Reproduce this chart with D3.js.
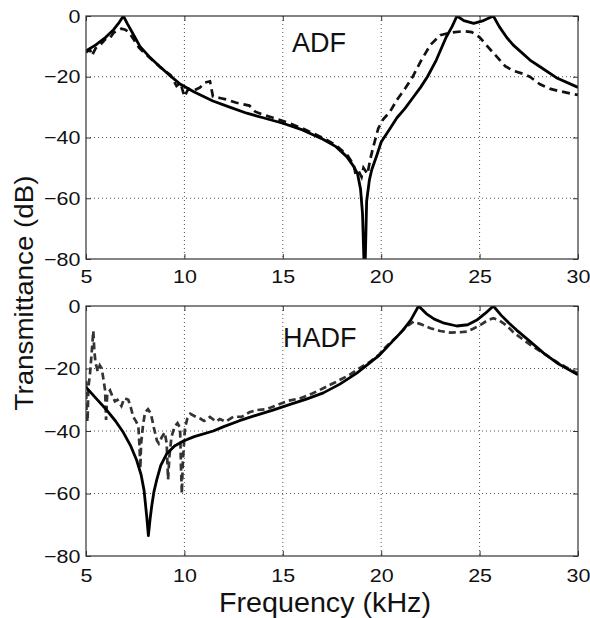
<html>
<head>
  <meta charset="utf-8" />
  <script src="https://cdnjs.cloudflare.com/ajax/libs/d3/7.8.5/d3.min.js"></script>
  <style>
    body { margin: 0; background: #fff; }
    text { font-family: "Liberation Sans", Arial, sans-serif; }
  </style>
</head>
<body>
  <script>

    var freqTicks = [5, 10, 15, 20, 25, 30];
    var dbTicks = [0, -20, -40, -60, -80];
    var panelTitles = ["ADF", "HADF"];

    // top panel, theory (solid) [kHz, dB]
    var adfTheory = [[5,-11.5],[5.5,-9.5],[6,-7],[6.4,-4.5],[6.7,-2],[6.9,0],[7.1,-2.5],[7.4,-6],
      [7.74,-10],[8.2,-13.3],[8.76,-16.7],[9.3,-19.8],[9.78,-22.4],[10.5,-25],[11.45,-28],
      [12.3,-30],[13.17,-32],[14,-33.5],[15,-35.3],[16,-37.5],[17.04,-40.6],[17.7,-43],
      [18.25,-46.3],[18.6,-49.5],[18.8,-52],[18.95,-57],[19.05,-65],[19.12,-80],[19.15,-90],
      [19.2,-78],[19.26,-61],[19.4,-54],[19.52,-50.6],[19.77,-46],[20,-41.5],[20.45,-37],
      [20.8,-33.5],[21.2,-30.5],[21.6,-27],[22,-23.5],[22.35,-20],[22.8,-14.5],[23.3,-7],
      [23.6,-3.5],[23.85,0],[24.2,-1.5],[24.7,-2.4],[25.2,-1.5],[25.7,0],[26,-3.5],[26.37,-7],
      [26.7,-9.5],[27.56,-14.5],[28.07,-16.7],[28.9,-20.3],[30,-23.5]];

    // top panel, measured (dashed)
    var adfMeasured = [[5,-12],[5.2,-11],[5.3,-13],[5.5,-10.5],[5.8,-9],[6,-7.5],[6.2,-7.5],
      [6.4,-5.5],[6.6,-4.8],[6.8,-4.2],[7,-4.5],[7.2,-5.5],[7.4,-7.5],[7.7,-10.5],[8.2,-13.5],
      [8.8,-17],[9.3,-19.5],[9.6,-23],[9.8,-22],[10,-26.5],[10.2,-24],[10.5,-24.5],[10.8,-23.5],
      [11,-22],[11.3,-21.5],[11.45,-26.5],[11.8,-27],[12.15,-27.5],[12.6,-28.5],[13.3,-29.5],
      [13.6,-31.5],[14,-32.5],[14.5,-33.5],[15.2,-35],[16,-37],[17,-40],[17.7,-42.5],[18.3,-46],
      [18.6,-49],[18.7,-52],[18.85,-51],[19,-53],[19.1,-50],[19.3,-52],[19.45,-47],[19.6,-43],
      [19.85,-37],[20.1,-34],[20.45,-31.5],[20.8,-27.6],[21.2,-24],[21.6,-20],[22,-15],
      [22.5,-9.5],[23,-6.3],[23.5,-5.5],[24.2,-5],[24.6,-5.3],[25,-7],[25.4,-10],[25.87,-13.4],
      [26.3,-16.5],[26.7,-18],[27.2,-19],[27.55,-20],[28.07,-22.5],[28.6,-24],[29.1,-24.8],[30,-26]];

    // bottom panel, theory (solid)
    var hadfTheory = [[5,-26],[5.5,-29.5],[6.05,-33.3],[6.5,-36.8],[6.9,-40.5],[7.25,-44.5],
      [7.57,-49.3],[7.8,-54],[7.95,-59],[8.08,-67],[8.17,-73.5],[8.26,-68],[8.34,-64],
      [8.45,-59.5],[8.6,-55.5],[8.8,-51],[9.1,-47.3],[9.5,-44.8],[9.95,-43.2],[10.5,-41.8],
      [11.47,-40],[12,-38.6],[12.8,-36.7],[13.67,-34.9],[14.5,-33.3],[15.37,-31.5],[16.2,-29.8],
      [17.06,-27.8],[17.9,-25],[18.76,-21.5],[19.4,-18.3],[19.9,-15.8],[20.5,-11.8],[21.1,-7.8],
      [21.5,-4.5],[21.9,0],[22.3,-2.5],[22.7,-4.2],[23.2,-5.5],[23.84,-6.4],[24.4,-6],
      [24.86,-4.5],[25.3,-2.3],[25.7,0],[26.1,-3],[26.5,-5.5],[26.88,-7.7],[27.5,-11],
      [28.24,-15],[29,-18.5],[30,-22]];

    // bottom panel, measured (dashed)
    var hadfMeasured = [[5,-24],[5.03,-35],[5.08,-37],[5.12,-26],[5.2,-22],[5.3,-14],[5.37,-8],
      [5.42,-14],[5.48,-18],[5.6,-21],[5.7,-19],[5.8,-20],[5.9,-24],[5.97,-27],[6.02,-36.5],
      [6.08,-28],[6.22,-27],[6.35,-29],[6.47,-30.5],[6.6,-30],[6.8,-32],[6.95,-29.5],[7.15,-30],
      [7.3,-33],[7.4,-35.5],[7.55,-37],[7.66,-38.5],[7.72,-45],[7.76,-52],[7.8,-44],[7.9,-38],
      [8,-34],[8.15,-33],[8.3,-34.5],[8.45,-39],[8.6,-43],[8.7,-44],[8.85,-42],[9,-40.5],
      [9.1,-44],[9.17,-55.5],[9.24,-48],[9.34,-42],[9.5,-38.6],[9.65,-37.5],[9.78,-39],
      [9.83,-52],[9.87,-60],[9.92,-50],[10.03,-39],[10.15,-36],[10.3,-34.5],[10.6,-35.5],
      [10.8,-36],[11,-36.8],[11.3,-35.5],[11.6,-37],[11.8,-36.2],[12.1,-37],[12.5,-35.4],
      [12.9,-35.5],[13.3,-34],[13.67,-33.3],[14.2,-33],[14.7,-31.7],[15.3,-30.3],[15.9,-29.5],
      [16.5,-28],[17.06,-26.3],[17.7,-24.3],[18.4,-22],[19,-19.5],[19.4,-18],[19.9,-15.5],
      [20.25,-13],[20.8,-9.8],[21.2,-7],[21.65,-5],[22,-5.8],[22.5,-7.1],[23,-8],[23.5,-8.5],
      [24,-8.4],[24.35,-8.2],[24.7,-7.2],[25.03,-6.1],[25.4,-4.6],[25.7,-3.9],[26,-4.6],
      [26.37,-6.2],[26.7,-8.3],[27.05,-10],[27.6,-12.5],[28.3,-15.4],[29,-18.2],[29.5,-20],[30,-21.5]];

    var svg = d3.select("body").append("svg").attr("width", 590).attr("height", 618);
    var xScale = d3.scaleLinear().domain([5, 30]).range([86, 578]);

    function drawPanel(top, bottom, solid, dashed, title, tx, ty, pad, dashColor, dashArray, n) {
      var yScale = d3.scaleLinear().domain([-80, 0]).range([bottom, top]);
      var g = svg.append("g");

      // dotted grid
      g.selectAll(".vgrid").data(freqTicks.slice(1, -1)).enter().append("line")
        .attr("x1", d => xScale(d)).attr("x2", d => xScale(d))
        .attr("y1", top).attr("y2", bottom)
        .attr("stroke", "#555").attr("stroke-dasharray", "1,3");
      g.selectAll(".hgrid").data(dbTicks.slice(1, -1)).enter().append("line")
        .attr("x1", 86).attr("x2", 578)
        .attr("y1", d => yScale(d)).attr("y2", d => yScale(d))
        .attr("stroke", "#555").attr("stroke-dasharray", "1,3");

      // clip to plot box
      svg.append("clipPath").attr("id", "clip" + n).append("rect")
        .attr("x", 86).attr("y", top).attr("width", 492).attr("height", bottom - top);

      var line = d3.line().x(d => xScale(d[0])).y(d => yScale(d[1]));
      g.append("path").datum(dashed).attr("d", line)
        .attr("clip-path", "url(#clip" + n + ")")
        .attr("fill", "none").attr("stroke", dashColor).attr("stroke-width", 2.7)
        .attr("stroke-dasharray", dashArray);
      g.append("path").datum(solid).attr("d", line)
        .attr("clip-path", "url(#clip" + n + ")")
        .attr("fill", "none").attr("stroke", "#000").attr("stroke-width", 2.8)
        .attr("stroke-linejoin", "round");

      // axes, ticks pointing in
      var xAxis = d3.axisBottom(xScale).tickValues(freqTicks).tickSizeInner(-5).tickSizeOuter(0).tickPadding(pad);
      var yAxis = d3.axisLeft(yScale).tickValues(dbTicks).tickSizeInner(-5).tickSizeOuter(0).tickPadding(5);
      var xTop = d3.axisTop(xScale).tickValues(freqTicks).tickSizeInner(-5).tickSizeOuter(0).tickFormat("");
      var yRight = d3.axisRight(yScale).tickValues(dbTicks).tickSizeInner(-5).tickSizeOuter(0).tickFormat("");

      var axes = [
        g.append("g").attr("transform", "translate(0," + bottom + ")").call(xAxis),
        g.append("g").attr("transform", "translate(86,0)").call(yAxis),
        g.append("g").attr("transform", "translate(0," + top + ")").call(xTop),
        g.append("g").attr("transform", "translate(578,0)").call(yRight)
      ];
      axes.forEach(function (a) {
        a.select(".domain").remove();
        a.selectAll("line").attr("stroke", "#333");
        a.selectAll("text").attr("font-size", 19).attr("fill", "#111")
          .attr("font-family", "'Liberation Sans', Arial, sans-serif")
          .attr("transform", "scale(1.13,1)");
      });

      // box
      g.append("rect").attr("x", 86).attr("y", top).attr("width", 492).attr("height", bottom - top)
        .attr("fill", "none").attr("stroke", "#333").attr("stroke-width", 1.2);

      g.append("text").attr("x", tx).attr("y", ty).attr("font-size", 27).attr("fill", "#111")
        .text(title);
    }

    drawPanel(16, 259, adfTheory, adfMeasured, panelTitles[0], 292, 52, 11, "#111", "8,5", 0);
    drawPanel(306, 556, hadfTheory, hadfMeasured, panelTitles[1], 283, 347, 13, "#333", "7,4", 1);

    svg.append("text").attr("x", 325).attr("y", 612).attr("text-anchor", "middle")
      .attr("font-size", 27).attr("fill", "#111")
      .attr("textLength", 212).attr("lengthAdjust", "spacingAndGlyphs")
      .text("Frequency (kHz)");
    svg.append("text").attr("transform", "translate(33,293) rotate(-90)")
      .attr("text-anchor", "middle").attr("font-size", 26).attr("fill", "#111")
      .attr("textLength", 235).attr("lengthAdjust", "spacingAndGlyphs")
      .text("Transmittance (dB)");

  </script>
</body>
</html>
